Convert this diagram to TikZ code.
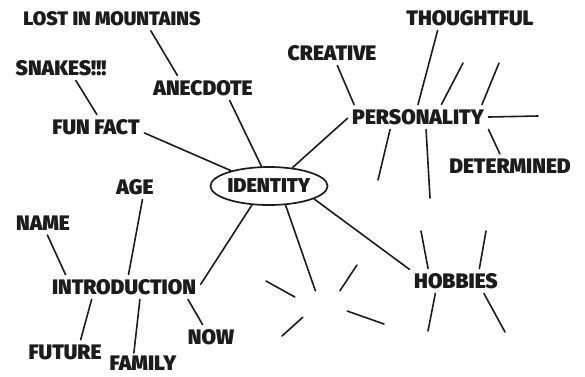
\documentclass[tikz,border=0pt]{standalone}
\usepackage{fontspec}
\setmainfont{Fira Sans}[BoldFont={Fira Sans Black}]
\usetikzlibrary{shapes.geometric}
\definecolor{ink}{HTML}{1C1C1C}
\tikzset{
  topic/.style={font=\bfseries\fontsize{21}{21}\selectfont, text=ink, inner sep=4.5pt},
  hub/.style={ellipse, draw=ink, line width=1.7pt, minimum width=112pt, minimum height=38pt, inner sep=0pt,
    font=\bfseries\fontsize{20}{20}\selectfont, text=ink},
  blank/.style={minimum width=52pt, minimum height=26pt, inner sep=0pt},
  link/.style={draw=ink, line width=1.6pt, line cap=round}
}
\begin{document}
\begin{tikzpicture}[x=1pt,y=-1pt]
\useasboundingbox (0,0) rectangle (585,376);
% centre
\node[hub] (id) at (269,186) {IDENTITY};
% branches
\node[topic, font=\bfseries\fontsize{19.5}{19.5}\selectfont] (lost) at (112,19) {LOST IN MOUNTAINS};
\node[topic] (anec) at (203,88) {ANECDOTE};
\node[topic] (snakes) at (61,68) {SNAKES!!!};
\node[topic] (fun) at (96,127) {FUN FACT};
\node[topic] (creative) at (332,53) {CREATIVE};
\node[topic] (thought) at (470,18) {THOUGHTFUL};
\node[topic] (pers) at (418,117) {PERSONALITY};
\node[topic] (determ) at (510,166) {DETERMINED};
\node[topic] (age) at (135,187) {AGE};
\node[topic] (name) at (43,223) {NAME};
\node[topic] (intro) at (124,287) {INTRODUCTION};
\node[topic] (future) at (65,352) {FUTURE};
\node[topic, inner sep=3pt] (family) at (143,363.5) {FAMILY};
\node[topic] (now) at (211,337) {NOW};
\node[topic] (hobbies) at (456,281) {HOBBIES};
\node[blank] (empty) at (321,304) {};
% loose ends
\coordinate (p1) at (463,63);
\coordinate (p2) at (499,63);
\coordinate (p3) at (538,116);
\coordinate (p4) at (378,180);
\coordinate (p5) at (430,198);
\coordinate (e1) at (266,281);
\coordinate (e2) at (357,265);
\coordinate (e3) at (282,336);
\coordinate (e4) at (384,324);
\coordinate (h1) at (421,231);
\coordinate (h2) at (486,231);
\coordinate (h3) at (428,331);
\coordinate (h4) at (505,332);
% anecdote + fun fact
\draw[link] (lost.-17) -- (anec.154);
\draw[link] (anec.-25) -- (id.111);
\draw[link] (snakes.-40) -- (fun.86);
\draw[link] (fun.-7) -- (id.158);
% personality
\draw[link] (id.38) -- (pers.181);
\draw[link] (creative.-67) -- (pers.169);
\draw[link] (thought.201) -- (pers.90);
\draw[link] (pers.-10) -- (determ.130);
\draw[link] (pers.28) -- (p1);
\draw[link] (pers.11.5) -- (p2);
\draw[link] (pers.0) -- (p3);
\draw[link] (pers.204) -- (p4);
\draw[link] (pers.-57) -- (p5);
% introduction
\draw[link] (id.228) -- (intro.2);
\draw[link] (age.-59) -- (intro.70);
\draw[link] (name.-70) -- (intro.168);
\draw[link] (intro.201) -- (future.38);
\draw[link] (intro.-38) -- (family.131);
\draw[link] (intro.-11.5) -- (now.124);
% empty branch
\draw[link] (id.-49) -- (empty.113);
\draw[link] (empty.165) -- (e1);
\draw[link] (empty.35) -- (e2);
\draw[link] (empty.216) -- (e3);
\draw[link] (empty.-15) -- (e4);
% hobbies
\draw[link] (id.-16) -- (hobbies.166);
\draw[link] (hobbies.156) -- (h1);
\draw[link] (hobbies.28.6) -- (h2);
\draw[link] (hobbies.211) -- (h3);
\draw[link] (hobbies.-24.8) -- (h4);
\end{tikzpicture}
\end{document}
